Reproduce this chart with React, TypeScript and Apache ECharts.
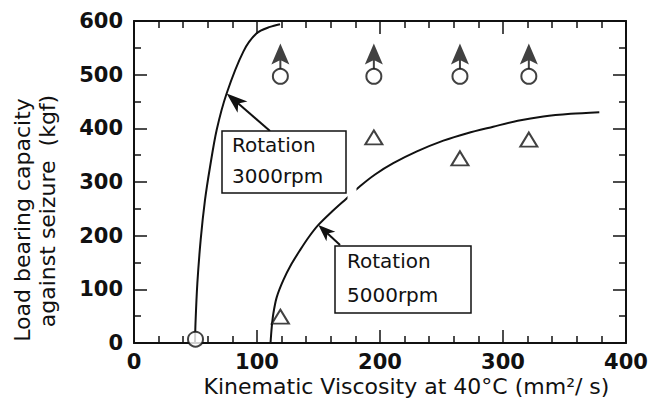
import React, { useEffect, useRef } from "react";
import * as echarts from "echarts";

// 3000 rpm fitted curve (viscosity, load)
const curve3000X = [49.6, 50, 51.5, 54.2, 57.7, 61.8, 67.2, 75.3, 88.9, 99.7, 110.6, 118.7];
const curve3000Y = [0, 37, 111, 192, 266, 328, 397, 465, 543, 577, 589, 594];
// 5000 rpm fitted curve
const curve5000X = [111, 112, 113.3, 116, 121.4, 128, 135, 142, 149.9, 161, 172.6, 183.7, 196, 210.8, 230, 251.5, 271, 292, 312, 332.8, 355, 378.3];
const curve5000Y = [0, 30, 55, 85, 117, 147, 173, 197, 220, 245, 269, 292, 314, 335, 357, 377, 391, 403, 414, 422, 427, 430];
// measured points, 3000 rpm (circles)
const circleX = [50, 119, 195, 265, 321];
const circleY = [7, 497, 497, 497, 497];
// "no seizure up to limit" markers above the circles
const arrowX = [119, 195, 265, 321];
const arrowY = [534, 534, 534, 534];
// measured points, 5000 rpm (triangles)
const triangleX = [119, 195, 265, 321];
const triangleY = [49, 383, 344, 379];
// annotation arrows: [tail, tip] in data units
const note3000 = [[110.6, 395], [75.3, 465]];
const note5000 = [[167.5, 182.6], [149.9, 220]];

const pairs = (xs: number[], ys: number[]) => xs.map((x, i) => [x, ys[i]]);

export default function App() {
  const ref = useRef<HTMLDivElement>(null);
  useEffect(() => {
    const chart = echarts.init(ref.current!, null, { renderer: "svg" });
    const ink = "#111";
    const font = "DejaVu Sans";
    const mkX = (pos: string, labels: boolean) => ({
      type: "value",
      min: 0,
      max: 400,
      interval: 100,
      position: pos,
      axisLine: { show: true, onZero: false, lineStyle: { color: ink, width: 2 } },
      axisTick: { show: true, inside: true, length: 13, lineStyle: { color: ink, width: 1.5 } },
      minorTick: { show: true, splitNumber: 5, length: 7, lineStyle: { color: ink, width: 1.5 } },
      axisLabel: {
        show: labels,
        margin: 19,
        verticalAlign: "middle",
        fontFamily: font,
        fontWeight: "bold",
        fontSize: 21,
        color: ink,
      },
      splitLine: { show: false },
      minorSplitLine: { show: false },
    });
    const mkY = (pos: string, labels: boolean) => ({
      type: "value",
      min: 0,
      max: 600,
      interval: 100,
      position: pos,
      axisLine: { show: true, onZero: false, lineStyle: { color: ink, width: 2 } },
      axisTick: { show: true, inside: true, length: 13, lineStyle: { color: ink, width: 1.5 } },
      minorTick: { show: true, splitNumber: 2, length: 7, lineStyle: { color: ink, width: 1.5 } },
      axisLabel: {
        show: labels,
        margin: 11,
        fontFamily: font,
        fontWeight: "bold",
        fontSize: 21,
        color: ink,
      },
      splitLine: { show: false },
      minorSplitLine: { show: false },
    });
    const arrowPath = "path://M10,0 L19,21 L11,17 L11,26 L9,26 L9,17 L1,21 Z";
    const headPath = "path://M10,0 L20,26 L10,19 L0,26 Z";
    const mkMark = (size: number[], coords: number[][]) => ({
      silent: true,
      symbol: ["none", headPath],
      symbolSize: size,
      label: { show: false },
      lineStyle: { color: ink, width: 2, type: "solid" },
      data: [[{ coord: coords[0] }, { coord: coords[1] }]],
    });
    const base: any = {
      animation: false,
      backgroundColor: "#fff",
      grid: { left: 134, right: 38, top: 21, bottom: 58, containLabel: false },
      xAxis: [mkX("bottom", true), mkX("top", false)],
      yAxis: [mkY("left", true), mkY("right", false)],
      series: [
        {
          type: "line",
          data: pairs(curve3000X, curve3000Y),
          smooth: 0.3,
          showSymbol: false,
          lineStyle: { color: ink, width: 2 },
        },
        {
          type: "line",
          data: pairs(curve5000X, curve5000Y),
          smooth: 0.3,
          showSymbol: false,
          lineStyle: { color: ink, width: 2 },
        },
        {
          type: "scatter",
          data: pairs(arrowX, arrowY),
          symbol: arrowPath,
          symbolSize: [18, 26],
          itemStyle: { color: ink },
          z: 3,
        },
        {
          type: "scatter",
          data: pairs(circleX, circleY),
          symbol: "circle",
          symbolSize: 15,
          itemStyle: { color: "#fff", borderColor: ink, borderWidth: 2 },
          z: 4,
        },
        {
          type: "scatter",
          data: pairs(triangleX, triangleY),
          symbol: "triangle",
          symbolSize: [17, 14],
          itemStyle: { color: "#fff", borderColor: ink, borderWidth: 2 },
          z: 4,
        },
      ],
      graphic: [
        { type: "rect", z: 100, shape: { x: 347.5, y: 186, width: 9, height: 13 }, style: { fill: "#fff" } },
        { type: "rect", z: 100, shape: { x: 222, y: 131, width: 124, height: 62 }, style: { fill: "#fff", stroke: ink, lineWidth: 1.5 } },
        { type: "text", z: 101, x: 232, y: 144.5, style: { text: "Rotation", fontFamily: font, fontSize: 20, fill: ink, textAlign: "left", textVerticalAlign: "middle" } },
        { type: "text", z: 101, x: 232, y: 176, style: { text: "3000rpm", fontFamily: font, fontSize: 20, fill: ink, textAlign: "left", textVerticalAlign: "middle" } },
        { type: "rect", z: 100, shape: { x: 335, y: 246, width: 136, height: 67 }, style: { fill: "#fff", stroke: ink, lineWidth: 1.5 } },
        { type: "text", z: 101, x: 347, y: 261, style: { text: "Rotation", fontFamily: font, fontSize: 20, fill: ink, textAlign: "left", textVerticalAlign: "middle" } },
        { type: "text", z: 101, x: 347, y: 294.5, style: { text: "5000rpm", fontFamily: font, fontSize: 20, fill: ink, textAlign: "left", textVerticalAlign: "middle" } },
        { type: "text", z: 101, x: 406.5, y: 386, style: { text: "Kinematic Viscosity at 40°C (mm²/ s)", fontFamily: font, fontSize: 22, fill: ink, textAlign: "center", textVerticalAlign: "middle" } },
        { type: "text", z: 101, x: 22, y: 220, rotation: Math.PI / 2, style: { text: "Load bearing capacity", fontFamily: font, fontSize: 22, fill: ink, textAlign: "center", textVerticalAlign: "middle" } },
        { type: "text", z: 101, x: 47, y: 211, rotation: Math.PI / 2, style: { text: "against seizure  (kgf)", fontFamily: font, fontSize: 22, fill: ink, textAlign: "center", textVerticalAlign: "middle" } },
      ],
    };
    chart.setOption(base);
    // the arrow-head symbol is centred on the end point: move it back so its tip touches the curve
    const pull = (coords: number[][], headLen: number) => {
      const a = chart.convertToPixel({ gridIndex: 0 }, coords[0]) as number[];
      const b = chart.convertToPixel({ gridIndex: 0 }, coords[1]) as number[];
      const dx = b[0] - a[0];
      const dy = b[1] - a[1];
      const len = Math.hypot(dx, dy) || 1;
      const c = [b[0] - (dx / len) * headLen / 2, b[1] - (dy / len) * headLen / 2];
      return [coords[0], chart.convertFromPixel({ gridIndex: 0 }, c) as number[]];
    };
    chart.setOption({
      series: [
        { markLine: mkMark([15, 21], pull(note3000, 21)) },
        { markLine: mkMark([13, 17], pull(note5000, 17)) },
      ],
    });
    return () => chart.dispose();
  }, []);
  return (
    <div
      ref={ref}
      style={{ position: "fixed", left: 0, top: 0, width: 664, height: 401, background: "#fff" }}
    />
  );
}
